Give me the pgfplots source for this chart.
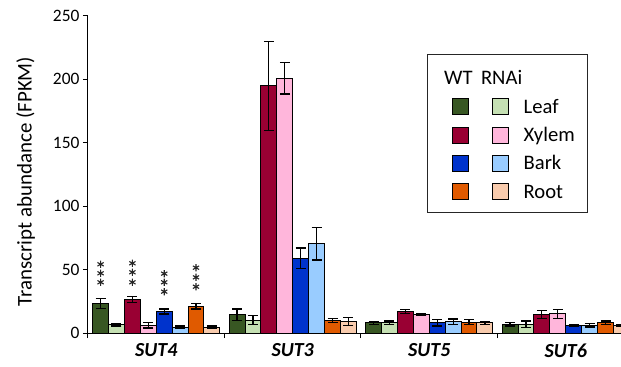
\documentclass[border=0pt]{standalone}
\usepackage{fontspec}
\setmainfont{Carlito}
\usepackage{pgfplots}
\pgfplotsset{compat=1.18}
\definecolor{dgreen}{HTML}{385723}
\definecolor{lgreen}{HTML}{C5E0B3}
\definecolor{crimson}{HTML}{990033}
\definecolor{lpink}{HTML}{FFB6DB}
\definecolor{dblue}{HTML}{0033CC}
\definecolor{lblue}{HTML}{99CCFF}
\definecolor{dorange}{HTML}{E05A00}
\definecolor{peach}{HTML}{F8CBAD}
\pgfplotsset{
  ebars/.style={error bars/.cd, y dir=both, y explicit,
    error bar style={line width=1.2bp, black},
    error mark options={rotate=90, mark size=5bp, line width=1.2bp, black}},
}
\begin{document}
\begin{tikzpicture}
\begin{axis}[name=ax,
  scale only axis, width=533bp, height=317bp,
  xmin=-0.5, xmax=3.4048, ymin=0, ymax=250,
  axis x line*=bottom, axis y line*=left,
  axis line style={line width=1bp, black},
  tick align=outside, major tick length=5bp,
  tick style={black, line width=1bp},
  ytick={0,50,100,150,200,250},
  xtick={-0.5,0.5,1.5,2.5}, xticklabels={},
  extra x ticks={0,1,2,3},
  extra x tick labels={\textbf{\textit{SUT4}},\textbf{\textit{SUT3}},\textbf{\textit{SUT5}},\textbf{\textit{SUT6}}},
  extra x tick style={tick style={draw=none}},
  xticklabel style={font=\fontsize{20}{20}\selectfont, yshift=-2bp},
  yticklabel style={font=\fontsize{17.5}{17.5}\selectfont},
  /pgf/number format/assume math mode=true,
  ylabel={Transcript abundance (FPKM)},
  ylabel style={at={(axis description cs:-0.117,0.478)}, anchor=center, font=\fontsize{21}{21}\selectfont},
]
% WT Leaf
\addplot[ybar, bar width=0.1165, bar shift=0pt, fill=dgreen, draw=black, line width=1bp, ebars] coordinates {
  (-0.40775,23.5) +- (0,4) (0.59225,14.5) +- (0,4.5) (1.59225,8) +- (0,1.2) (2.59225,7) +- (0,1.5)};
% RNAi Leaf
\addplot[ybar, bar width=0.1165, bar shift=0pt, fill=lgreen, draw=black, line width=1bp, ebars] coordinates {
  (-0.29125,6.5) +- (0,1) (0.70875,10) +- (0,3.5) (1.70875,8) +- (0,1.5) (2.70875,7) +- (0,2.5)};
% WT Xylem
\addplot[ybar, bar width=0.1165, bar shift=0pt, fill=crimson, draw=black, line width=1bp, ebars] coordinates {
  (-0.17475,26.5) +- (0,2.5) (0.82525,195) +- (0,35) (1.82525,17) +- (0,1.5) (2.82525,14.5) +- (0,3)};
% RNAi Xylem
\addplot[ybar, bar width=0.1165, bar shift=0pt, fill=lpink, draw=black, line width=1bp, ebars] coordinates {
  (-0.05825,6) +- (0,2) (0.94175,201) +- (0,12.5) (1.94175,14.5) +- (0,1) (2.94175,15) +- (0,3.5)};
% WT Bark
\addplot[ybar, bar width=0.1165, bar shift=0pt, fill=dblue, draw=black, line width=1bp, ebars] coordinates {
  (0.05825,17) +- (0,2) (1.05825,59) +- (0,8) (2.05825,8) +- (0,2.5) (3.05825,6) +- (0,1)};
% RNAi Bark
\addplot[ybar, bar width=0.1165, bar shift=0pt, fill=lblue, draw=black, line width=1bp, ebars] coordinates {
  (0.17475,4.5) +- (0,1) (1.17475,70.5) +- (0,13) (2.17475,9) +- (0,2) (3.17475,6) +- (0,1.2)};
% WT Root
\addplot[ybar, bar width=0.1165, bar shift=0pt, fill=dorange, draw=black, line width=1bp, ebars] coordinates {
  (0.29125,21) +- (0,2) (1.29125,10) +- (0,1.5) (2.29125,8.5) +- (0,2) (3.29125,8) +- (0,1.5)};
% RNAi Root
\addplot[ybar, bar width=0.1165, bar shift=0pt, fill=peach, draw=black, line width=1bp, ebars] coordinates {
  (0.40775,4.5) +- (0,1) (1.40775,9) +- (0,3) (2.40775,8) +- (0,1) (3.40775,6) +- (0,1)};
% significance asterisks
\addplot[only marks, mark=asterisk, mark size=3.6bp, black!85, mark options={line width=1.1bp}] coordinates {
  (-0.40775,54.2) (-0.40775,47.1) (-0.40775,40.0)
  (-0.17475,55.0) (-0.17475,47.9) (-0.17475,40.0)
  (0.05825,46.8) (0.05825,40.0) (0.05825,32.6)
  (0.29125,51.5) (0.29125,43.9) (0.29125,36.5)};
\end{axis}
\begin{scope}[shift={(ax.south west)}]
\begin{scope}[shift={(-88bp,333bp)}, x=1bp, y=-1bp, font=\fontsize{20.7}{20.7}\selectfont]
\draw[line width=1bp, black!85] (428,55) rectangle (588,213);
\node[anchor=base west, inner sep=0pt] at (444,84.3) {WT\hspace{0.41em}RNAi};
\foreach \c/\d/\t [count=\i from 0] in {dgreen/lgreen/Leaf, crimson/lpink/Xylem, dblue/lblue/Bark, dorange/peach/Root}{
  \pgfmathsetmacro{\yc}{106.7+28.33*\i}
  \draw[line width=1bp, fill=\c] (452.3,\yc-8) rectangle (468.3,\yc+8);
  \draw[line width=1bp, fill=\d] (492.7,\yc-8) rectangle (508.3,\yc+8);
  \node[anchor=base west, inner sep=0pt] at (523.5,\yc+6.6) {\t};
}
\end{scope}
\end{scope}
\pgfresetboundingbox
\path ([shift={(-88bp,-34bp)}]ax.south west) rectangle ([shift={(0bp,16bp)}]ax.north east);
\end{tikzpicture}
\end{document}
